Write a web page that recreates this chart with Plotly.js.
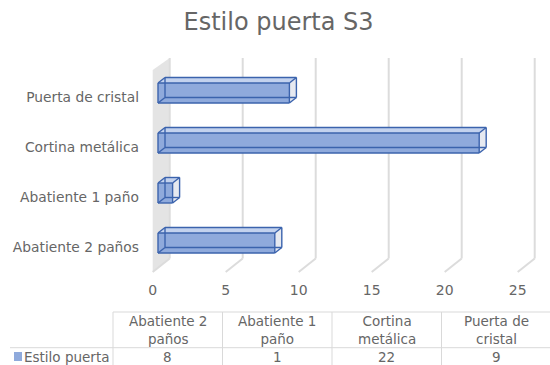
<!DOCTYPE html>
<html>
<head>
<meta charset="utf-8">
<script src="https://cdn.plot.ly/plotly-3.0.1.min.js"></script>
<style>html,body{margin:0;padding:0;background:#fff;}#chart{width:550px;height:365px;}</style>
</head>
<body>
<div id="chart"></div>
<script>
// ---- data ----
const chartTitle = 'Estilo puerta S3';
const seriesName = 'Estilo puerta';
const categories = ['Abatiente 2 paños', 'Abatiente 1 paño', 'Cortina metálica', 'Puerta de cristal'];
const values = [8, 1, 22, 9];
const axisTicks = [0, 5, 10, 15, 20, 25];

// ---- geometry (pixels) ----
const W = 550, H = 365, L = 140, R = 2, T = 55, B = 85;
const pw = W - L - R, ph = H - T - B;
const pxPerX = 14.6, pxPerY = 50;
const xMin = -(152.7 - L) / pxPerX;
const xMax = xMin + pw / pxPerX;
const yMax = (243 - T) / pxPerY;
const yMin = yMax - ph / pxPerY;

// depth offsets (data units)
const floorDx = 17 / pxPerX, floorDy = 13.5 / pxPerY;
const barDx = 7 / pxPerX, barDy = 5.5 / pxPerY;
const barX0 = 5.3 / pxPerX, barH = 10 / pxPerY;
const floorFrontY = (243 - 272) / pxPerY;
const wallTopFront = (243 - 70) / pxPerY, wallTopBack = (243 - 58) / pxPerY;

const FONT = 'DejaVu Sans';
const TXT = '#666666';
const edgeColor = '#3b63ad';
const frontFill = '#8faadc';
const topFill = '#c3d2ee';
const sideFill = '#e6e9f0';

const traces = [];
values.forEach((v, i) => {
  const x0 = barX0, x1 = barX0 + v;
  const yb = i - barH, yt = i + barH;
  const dx = barDx, dy = barDy;
  const common = {mode: 'lines', fill: 'toself', line: {width: 0}, hoverinfo: 'skip', showlegend: false};
  traces.push(Object.assign({x: [x0, x1, x1 + dx, x0 + dx, x0], y: [yt, yt, yt + dy, yt + dy, yt], fillcolor: topFill}, common));
  traces.push(Object.assign({x: [x1, x1 + dx, x1 + dx, x1, x1], y: [yt, yt + dy, yb + dy, yb, yt], fillcolor: sideFill}, common));
  traces.push(Object.assign({x: [x0, x1, x1, x0, x0], y: [yb, yb, yt, yt, yb], fillcolor: frontFill, name: seriesName}, common));
  // edges of the transparent box
  const ex = [], ey = [];
  const seg = (a, b, c, d) => { ex.push(a, c, null); ey.push(b, d, null); };
  seg(x0, yb, x1, yb); seg(x1, yb, x1, yt); seg(x1, yt, x0, yt); seg(x0, yt, x0, yb);
  seg(x0 + dx, yb + dy, x1 + dx, yb + dy); seg(x1 + dx, yb + dy, x1 + dx, yt + dy);
  seg(x1 + dx, yt + dy, x0 + dx, yt + dy); seg(x0 + dx, yt + dy, x0 + dx, yb + dy);
  seg(x0, yb, x0 + dx, yb + dy); seg(x1, yb, x1 + dx, yb + dy);
  seg(x0, yt, x0 + dx, yt + dy); seg(x1, yt, x1 + dx, yt + dy);
  traces.push({x: ex, y: ey, mode: 'lines', line: {color: edgeColor, width: 1.4}, hoverinfo: 'skip', showlegend: false});
});

const shapes = [];
// side wall
shapes.push({type: 'path', xref: 'x', yref: 'y', layer: 'below',
  path: `M 0 ${floorFrontY} L ${floorDx} ${floorFrontY + floorDy} L ${floorDx} ${wallTopBack} L 0 ${wallTopFront} Z`,
  fillcolor: '#e4e4e4', line: {width: 0}});
// gridlines: back wall + floor
axisTicks.forEach(t => {
  shapes.push({type: 'line', xref: 'x', yref: 'y', layer: 'below', x0: t + floorDx, x1: t + floorDx,
    y0: floorFrontY + floorDy, y1: wallTopBack, line: {color: '#dcdcdc', width: 2}});
  shapes.push({type: 'line', xref: 'x', yref: 'y', layer: 'below', x0: t, x1: t + floorDx,
    y0: floorFrontY, y1: floorFrontY + floorDy, line: {color: '#dcdcdc', width: 2}});
});

// ---- data table (pixels -> paper) ----
const PX = x => (x - L) / pw;
const PY = y => (H - B - y) / ph;
const tblLeft = 113, colW = 109.5, tblTop = 312, tblMid = 347.7, tblBot = 366;
const gridC = '#d9d9d9';
const pline = (x0, y0, x1, y1) => shapes.push({type: 'line', xref: 'paper', yref: 'paper',
  x0: PX(x0), y0: PY(y0), x1: PX(x1), y1: PY(y1), line: {color: gridC, width: 1}});
pline(tblLeft, tblTop, tblLeft + colW * categories.length, tblTop);
pline(10, tblMid, tblLeft + colW * categories.length, tblMid);
for (let j = 0; j <= categories.length; j++) pline(tblLeft + colW * j, tblTop, tblLeft + colW * j, tblBot);
// legend key
shapes.push({type: 'rect', xref: 'paper', yref: 'paper', x0: PX(14), x1: PX(22), y0: PY(361), y1: PY(352),
  fillcolor: frontFill, line: {width: 0}});

const annotations = [];
const wrap = s => { const k = s.lastIndexOf(' '); return s.slice(0, k) + '<br>' + s.slice(k + 1); };
const tblFont = {family: FONT, size: 13.5, color: TXT};
categories.forEach((c, j) => {
  const cx = tblLeft + colW * (j + 0.5);
  annotations.push({xref: 'paper', yref: 'paper', x: PX(cx), y: PY(330), text: wrap(c), showarrow: false,
    xanchor: 'center', yanchor: 'middle', font: tblFont});
  annotations.push({xref: 'paper', yref: 'paper', x: PX(cx), y: PY(357), text: String(values[j]), showarrow: false,
    xanchor: 'center', yanchor: 'middle', font: tblFont});
});
annotations.push({xref: 'paper', yref: 'paper', x: PX(22), y: PY(357), text: seriesName, showarrow: false,
  xanchor: 'left', yanchor: 'middle', font: tblFont});

const layout = {
  width: W, height: H,
  margin: {l: L, r: R, t: T, b: B, pad: 0},
  paper_bgcolor: '#ffffff', plot_bgcolor: 'rgba(0,0,0,0)',
  title: {text: chartTitle, xref: 'container', yref: 'container', x: 278.5 / W, y: 1 - 22 / H,
    xanchor: 'center', yanchor: 'middle', font: {family: FONT, size: 24, color: TXT}},
  xaxis: {range: [xMin, xMax], tickvals: axisTicks, ticktext: axisTicks.map(String), showgrid: false,
    zeroline: false, showline: false, ticks: '', tickfont: {family: FONT, size: 14, color: TXT}, fixedrange: true},
  yaxis: {range: [yMin, yMax], tickvals: categories.map((c, i) => i - 0.08), ticktext: categories,
    showgrid: false, zeroline: false, showline: false, ticks: '', tickfont: {family: FONT, size: 13.8, color: TXT},
    fixedrange: true},
  shapes: shapes, annotations: annotations, showlegend: false
};

Plotly.newPlot('chart', traces, layout, {displayModeBar: false, staticPlot: true});
</script>
</body>
</html>
